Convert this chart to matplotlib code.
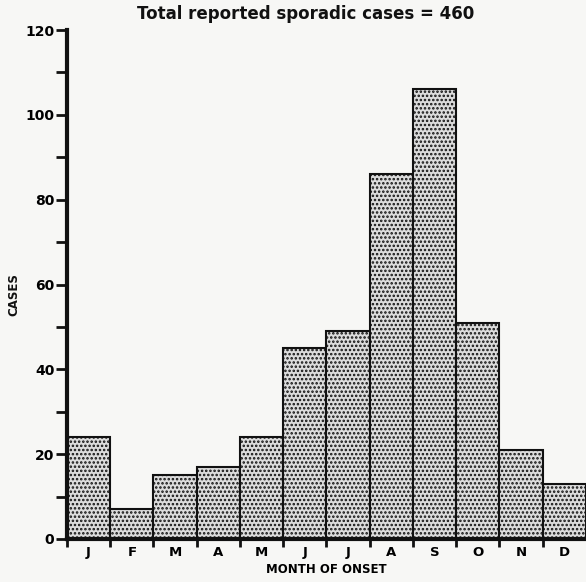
import numpy as np
import matplotlib.pyplot as plt
from matplotlib.ticker import MultipleLocator

# ---- DATA ----
months = ["J", "F", "M", "A", "M", "J", "J", "A", "S", "O", "N", "D"]
cases = [24, 7, 15, 17, 24, 45, 49, 86, 106, 51, 21, 13]
total_label = "Total reported sporadic cases = 460"

# ---- STYLE ----
BAR_FACE = "#dcdcdc"
INK = "#111111"
BG = "#f7f7f5"

plt.rcParams["hatch.linewidth"] = 1.2
plt.rcParams["hatch.color"] = "#5a5a5a"

fig = plt.figure(figsize=(5.86, 5.82), dpi=100, facecolor=BG)
ax = fig.add_axes([0.1143, 0.0739, 0.8857, 0.8745])
ax.set_facecolor(BG)

x = np.arange(len(months))
ax.bar(x, cases, width=1.0, align="edge", color=BAR_FACE,
       edgecolor=INK, linewidth=1.5, hatch="....", zorder=2)

ax.set_xlim(0, len(months))
ax.set_ylim(0, 120)

# y axis: labelled every 20, extra tick every 10
ax.yaxis.set_major_locator(MultipleLocator(20))
ax.yaxis.set_minor_locator(MultipleLocator(10))
ax.tick_params(axis="y", which="both", direction="out", length=8,
               width=2, color=INK, labelsize=10, pad=1)
for lab in ax.get_yticklabels():
    lab.set_fontweight("bold")

# x axis: ticks at month boundaries, labels centred under each bar
ax.set_xticks(x, minor=False)
ax.set_xticklabels([])
ax.set_xticks(x + 0.5, minor=True)
ax.set_xticklabels(months, minor=True, fontsize=9.5, fontweight="bold")
ax.tick_params(axis="x", which="major", direction="out", length=6,
               width=2, color=INK)
ax.tick_params(axis="x", which="minor", length=0, pad=5)

for side in ["top", "right"]:
    ax.spines[side].set_visible(False)
ax.spines["left"].set_linewidth(3)
ax.spines["bottom"].set_linewidth(3)
ax.spines["left"].set_color(INK)
ax.spines["bottom"].set_color(INK)

ax.set_xlabel("MONTH OF ONSET", fontsize=8.5, fontweight="bold", labelpad=3)
fig.text(14 / 586, 1 - 295 / 582, "CASES", rotation=90, ha="center",
         va="center", fontsize=8.5, fontweight="bold", color=INK)
fig.text(0.522, 0.976, total_label, ha="center", va="center",
         fontsize=12, fontweight="bold", color=INK)

plt.savefig("out.png", dpi=100, facecolor=BG)
